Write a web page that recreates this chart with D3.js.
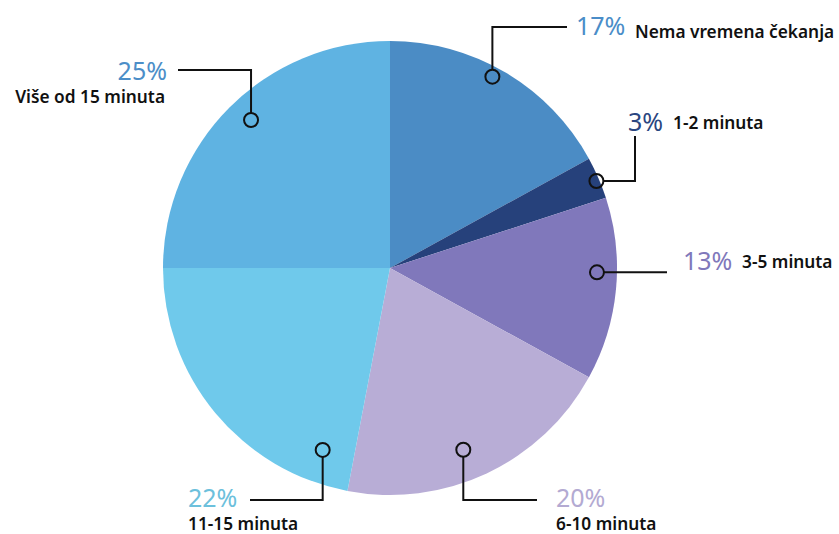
<!DOCTYPE html>
<html><head><meta charset="utf-8">
<script src="https://cdn.jsdelivr.net/npm/d3@7"></script>
<style>body{margin:0;background:#fff}svg{display:block}</style>
</head><body>
<svg id="c" width="839" height="534"></svg>
<script>
const categories = ["Nema vremena čekanja","1-2 minuta","3-5 minuta","6-10 minuta","11-15 minuta","Više od 15 minuta"];
const values = [17,3,13,20,22,25];
const sliceColors = ["#4b8cc5","#26417b","#8078bb","#b8add6","#6fc9eb","#5fb3e2"];
const pctColors = ["#4a8dc8","#2a4680","#8078bb","#b3aad2","#6cc0dc","#4c8ec8"];

// annotation layout: anchor angle within slice (fraction), anchor radius, leader path style
const layout = [
  {frac:0.46, rad:217, type:"upRight", elbowY:27, end:567, tx:576, ty:35, lx:635, ly:38},
  {frac:0.55, rad:224, type:"rightUp", elbowX:635, end:136, tx:628, ty:131, lx:673, ly:129},
  {frac:0.41, rad:207, type:"right", end:667, tx:683, ty:270, lx:742, ly:268},
  {frac:0.545, rad:196, type:"downRight", elbowY:500, end:537, tx:556, ty:507, lx:556, ly:530},
  {frac:0.12, rad:194, type:"downLeft", elbowY:500, end:250, tx:188, ty:507, lx:188, ly:530},
  {frac:0.52, rad:203, type:"upLeft", elbowY:70, end:178, tx:167, ty:80, lx:165, ly:103, anchorEnd:true}
];

const svg = d3.select("#c");
const cx = 390, cy = 268, R = 227;
const g = svg.append("g").attr("transform",`translate(${cx},${cy})`);
const pie = d3.pie().sort(null).value(d=>d)(values);
const arc = d3.arc().innerRadius(0).outerRadius(R);
g.selectAll("path").data(pie).join("path")
  .attr("d",arc).attr("fill",(d,i)=>sliceColors[i]);

const font = "'Noto Sans', sans-serif";
pie.forEach((d,i)=>{
  const L = layout[i];
  const a = d.startAngle + (d.endAngle-d.startAngle)*L.frac;
  const px = cx + L.rad*Math.sin(a), py = cy - L.rad*Math.cos(a);
  const pr = 7;
  let pts;
  if (L.type==="upRight" || L.type==="upLeft") pts=[[px,py-pr],[px,L.elbowY],[L.end,L.elbowY]];
  else if (L.type==="rightUp") pts=[[px+pr,py],[L.elbowX,py],[L.elbowX,L.end]];
  else if (L.type==="right") pts=[[px+pr,py],[L.end,py]];
  else pts=[[px,py+pr],[px,L.elbowY],[L.end,L.elbowY]];
  svg.append("path").attr("d",d3.line()(pts)).attr("fill","none")
    .attr("stroke","#111").attr("stroke-width",2);
  svg.append("circle").attr("cx",px).attr("cy",py).attr("r",pr)
    .attr("fill","none").attr("stroke","#111").attr("stroke-width",2);
  svg.append("text").attr("x",L.tx).attr("y",L.ty)
    .attr("text-anchor",L.anchorEnd?"end":"start")
    .attr("font-family",font).attr("font-size",25).attr("fill",pctColors[i])
    .text(values[i]+"%");
  svg.append("text").attr("x",L.lx).attr("y",L.ly)
    .attr("text-anchor",L.anchorEnd?"end":"start")
    .attr("font-family",font).attr("font-size",17.3).attr("font-weight",600).attr("fill","#111")
    .text(categories[i]);
});
</script>
</body></html>
